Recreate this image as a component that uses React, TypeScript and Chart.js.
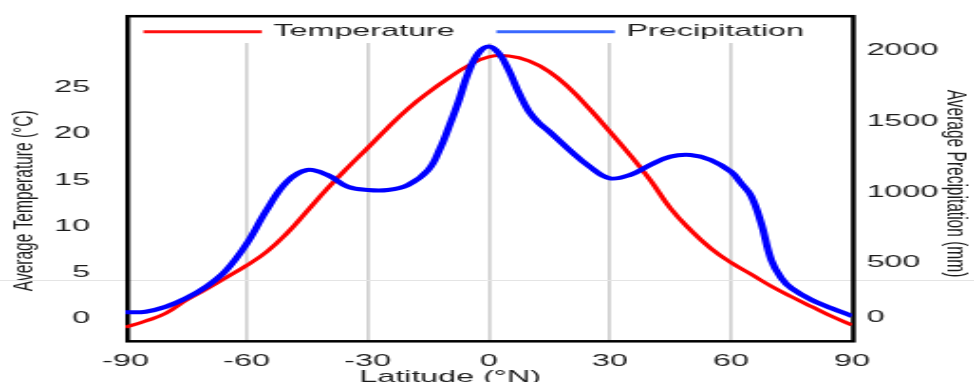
import React, { useEffect, useRef } from 'react';
import { Chart, registerables } from 'chart.js';

Chart.register(...registerables);

// ---------- data ----------
const latitudeTicks = [-90, -60, -30, 0, 30, 60, 90];
const temperatureTicks = [0, 5, 10, 15, 20, 25];
const precipitationTicks = [0, 500, 1000, 1500, 2000];
// the figure prints its "0" precipitation label slightly above 0 mm; it sits at this value
const precipitationZeroLabelAt = 110;

const tempLatitudes = [
  -90, -85, -80, -75, -70, -65, -60, -55, -50, -45, -40, -35, -30, -25, -20, -15, -10, -5, 0,
  5, 10, 15, 20, 25, 30, 35, 40, 45, 50, 55, 60, 65, 70, 75, 80, 85, 90,
];
const temperature = [
  -0.97, -0.3, 0.55, 1.95, 3.15, 4.42, 5.72, 7.21, 9.21, 11.62, 14.05, 16.3, 18.45, 20.65, 22.7, 24.45, 26.0, 27.38, 28.32,
  28.41, 27.87, 26.71, 24.91, 22.67, 20.21, 17.69, 14.98, 11.92, 9.56, 7.58, 6.04, 4.77, 3.47, 2.34, 1.26, 0.2, -0.73,
];

const precipLatitudes = [
  -90, -85, -80, -75, -70, -65, -60, -55, -50, -45, -40, -35, -30, -25, -20, -15, -12, -10, -7.5, -5,
  -2.5, 0, 2.5, 5, 7.5, 10, 12.5, 15, 20, 25, 30, 35, 40, 45, 50, 55, 60, 62.5, 65, 67.5,
  70, 72.5, 75, 80, 85, 90,
];
const precipitation = [
  147, 151, 186, 246, 328, 446, 631, 872, 1072, 1155, 1120, 1037, 1013, 1013, 1049, 1155, 1311, 1451, 1640, 1850,
  1985, 2030, 1982, 1860, 1700, 1568, 1486, 1427, 1297, 1179, 1096, 1120, 1191, 1250, 1262, 1226, 1143, 1061, 971, 777,
  517, 388, 317, 234, 175, 120,
];

const seriesLabels = ['Temperature', 'Precipitation'];
const seriesColors = ['#ff0000', '#0000ff'];
const legendColors = ['#ff1010', '#3a68ff'];

const FONT = '"Liberation Sans", Arial, Helvetica, sans-serif';
const TEXT = '#1c1c1c';
const INNER_W = 513;
const H = 382;
const OUTER_W = 974;

const framePlugin = {
  id: 'frame',
  beforeDatasetsDraw(chart: any) {
    const { ctx, chartArea: a } = chart;
    ctx.save();
    // faint stray horizontal line across the whole figure
    ctx.strokeStyle = '#e4e4e4';
    ctx.lineWidth = 1;
    ctx.beginPath();
    ctx.moveTo(0, a.bottom - 60.8);
    ctx.lineTo(chart.width, a.bottom - 60.8);
    ctx.stroke();
    // plot box (encloses legend strip)
    ctx.strokeStyle = '#000';
    ctx.lineWidth = 2.5;
    const top = a.top - 26.8;
    const left = a.left + 1.2;
    const right = a.right + 0.7;
    ctx.strokeRect(left, top, right - left, a.bottom - top);
    ctx.restore();
  },
  afterDraw(chart: any) {
    const { ctx, chartArea: a } = chart;
    ctx.save();
    // legend
    const ly = a.top - 11.3;
    ctx.font = `17px ${FONT}`;
    ctx.textBaseline = 'middle';
    ctx.textAlign = 'left';
    let x = a.left + 9.5;
    chart.data.datasets.forEach((ds: any, i: number) => {
      ctx.strokeStyle = legendColors[i];
      ctx.lineWidth = 3;
      ctx.beginPath();
      ctx.moveTo(x, ly);
      ctx.lineTo(x + 62.3, ly);
      ctx.stroke();
      x += 62.3 + 6.2;
      ctx.fillStyle = TEXT;
      ctx.fillText(ds.label, x, ly);
      x += ctx.measureText(ds.label).width + 22;
    });
    // x axis title
    ctx.textAlign = 'center';
    ctx.textBaseline = 'alphabetic';
    ctx.fillText('Latitude (°N)', a.left + 171, a.bottom + 40.9);
    ctx.restore();
  },
};

export default function App() {
  const canvasRef = useRef<HTMLCanvasElement | null>(null);

  useEffect(() => {
    const canvas = canvasRef.current;
    if (!canvas) return;
    const tickFont = { family: FONT, size: 17 };
    const chart = new Chart(canvas, {
      type: 'line',
      data: {
        datasets: [
          {
            label: seriesLabels[0],
            data: tempLatitudes.map((x, i) => ({ x, y: temperature[i] })),
            yAxisID: 'yT',
            borderColor: seriesColors[0],
            backgroundColor: seriesColors[0],
            borderWidth: 3,
            tension: 0.45,
            pointRadius: 0,
            fill: false,
            order: 2,
          },
          {
            label: seriesLabels[1],
            data: precipLatitudes.map((x, i) => ({ x, y: precipitation[i] })),
            yAxisID: 'yP',
            borderColor: seriesColors[1],
            backgroundColor: seriesColors[1],
            borderWidth: 4,
            tension: 0.4,
            pointRadius: 0,
            fill: false,
            order: 1,
          },
        ],
      },
      options: {
        responsive: false,
        animation: false,
        devicePixelRatio: 1,
        layout: { padding: { top: 43, left: 0, right: 0, bottom: 0 } },
        plugins: { legend: { display: false }, tooltip: { enabled: false } },
        events: [],
        scales: {
          x: {
            type: 'linear',
            min: -90,
            max: 90,
            afterBuildTicks: (s: any) => {
              s.ticks = latitudeTicks.map((v) => ({ value: v }));
            },
            afterFit: (s: any) => {
              s.height = 40.7;
            },
            grid: {
              color: (c: any) =>
                c.tick && Math.abs(c.tick.value) === 90 ? 'rgba(0,0,0,0)' : '#d2d2d2',
              lineWidth: 1.8,
              drawTicks: false,
            },
            border: { display: false },
            ticks: {
              font: tickFont,
              color: TEXT,
              padding: 9.4,
              maxRotation: 0,
              autoSkip: false,
              callback: (v: any) => String(v),
            },
          },
          yT: {
            type: 'linear',
            position: 'left',
            min: -2.49,
            max: 29.82,
            afterBuildTicks: (s: any) => {
              s.ticks = temperatureTicks.map((v) => ({ value: v }));
            },
            afterFit: (s: any) => {
              s.width = 66.05;
            },
            grid: { display: false, drawTicks: false },
            border: { display: false },
            ticks: {
              font: tickFont,
              color: TEXT,
              padding: 18.65,
              callback: (v: any) => String(v),
            },
            title: {
              display: true,
              text: 'Average Temperature (°C)    ',
              font: { family: FONT, size: 15.5 },
              color: TEXT,
              padding: { top: 3, bottom: 0 },
            },
          },
          yP: {
            type: 'linear',
            position: 'right',
            min: -58.8,
            max: 2055,
            afterBuildTicks: (s: any) => {
              s.ticks = precipitationTicks.map((v) => ({
                value: v === 0 ? precipitationZeroLabelAt : v,
              }));
            },
            afterFit: (s: any) => {
              s.width = 64.25;
            },
            grid: { display: false, drawTicks: false },
            border: { display: false },
            ticks: {
              font: tickFont,
              color: TEXT,
              padding: 7.65,
              callback: (v: any) => (v === precipitationZeroLabelAt ? '0' : String(v)),
            },
            title: {
              display: true,
              text: 'Average Precipitation (mm)    ',
              font: { family: FONT, size: 15.5 },
              color: TEXT,
              padding: { top: 0, bottom: 0 },
            },
          },
        },
      } as any,
      plugins: [framePlugin],
    });
    return () => chart.destroy();
  }, []);

  return (
    <div style={{ position: 'absolute', left: 0, top: 0, width: OUTER_W, height: H, background: '#fff' }}>
      <canvas
        ref={canvasRef}
        width={INNER_W}
        height={H}
        style={{ display: 'block', width: `${OUTER_W}px`, height: `${H}px` }}
      />
    </div>
  );
}
